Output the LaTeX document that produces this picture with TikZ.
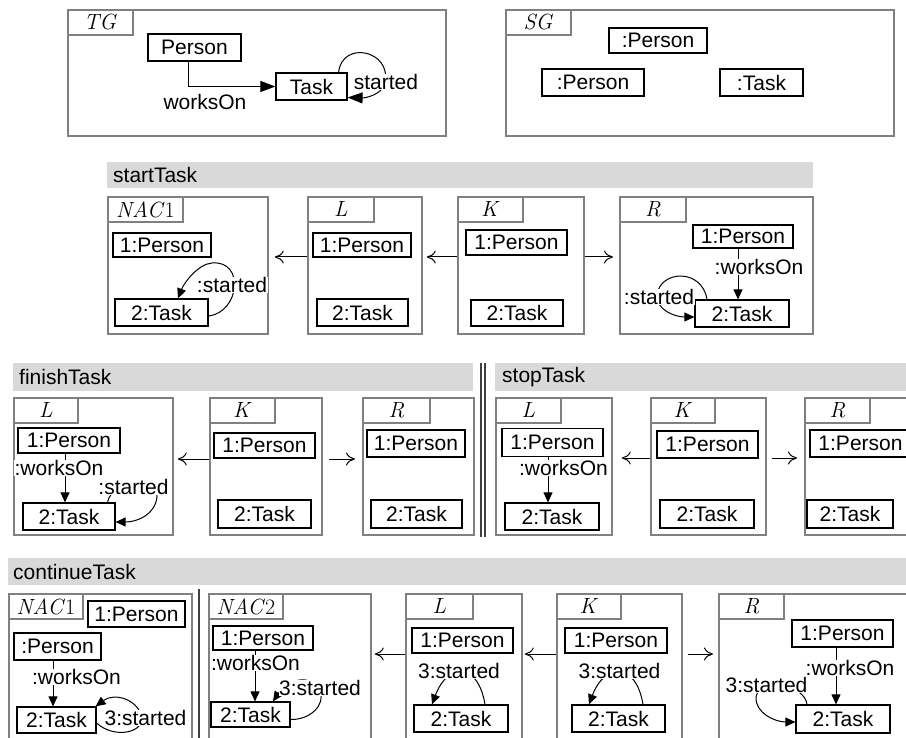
\documentclass[tikz,border=0pt]{standalone}
\usepackage{fontspec}
\setsansfont{Liberation Sans}
\usetikzlibrary{arrows.meta}
\definecolor{fgray}{HTML}{808080}
\definecolor{bgray}{HTML}{D9D9D9}
\tikzset{
  frm/.style={draw=fgray, line width=1.8, inner sep=0, anchor=north west},
  tabn/.style={draw=fgray, line width=1.8, inner sep=0, anchor=north west, minimum height=25, font=\rmfamily\fontsize{22}{22}\selectfont},
  obj/.style={draw=black, line width=1.2, inner sep=0, font=\sffamily\fontsize{21}{24}\selectfont},
  lbl/.style={fill=white, inner sep=0.5, font=\sffamily\fontsize{21}{24}\selectfont},
  barbox/.style={fill=bgray, inner sep=0, anchor=north west},
  bartxt/.style={anchor=west, inner sep=0, font=\sffamily\fontsize{21}{24}\selectfont},
  ed/.style={line width=1, -{Triangle[length=10, width=9]}},
  edB/.style={line width=1, -{Triangle[length=15, width=11]}},
  rarr/.style={line width=1, -{Computer Modern Rightarrow[length=9, width=13]}},
  sep/.style={line width=1.2, black!75},
}
\newcommand\Frm[7]{%
  \node[frm, minimum width={#4-#2}, minimum height={#5-#3}] (#1) at (#2,#3) {};
  \node[tabn, minimum width=#6] (#1t) at (#2,#3) {#7};
}
\newcommand\tl[1]{\textit{#1}}
\begin{document}
\begin{tikzpicture}[x=1pt,y=-1pt]
\useasboundingbox (0,0) rectangle (906,738);
\clip (0,0) rectangle (906,738);

% ---------- TG ----------
\Frm{tg}{67}{9}{445}{135}{65}{\tl{TG}}
\node[obj, minimum width=93, minimum height=27] (tgP) at (194.5,47.5) {Person};
\node[obj, minimum width=71, minimum height=27] (tgT) at (311.5,86.5) {Task};
\draw[edB] ([xshift=-6.5]tgP.south) |- (tgT.west);
\node[lbl] (tgwl) at (205,102) {worksOn};
\draw[edB] ([xshift=-9]tgT.north east) .. controls (342,40) and (392,50) .. (385,83) .. controls (382,95) and (365,98) .. ([yshift=-11]tgT.east);
\node[lbl] (tgsl) at (386,82) {started};

% ---------- SG ----------
\Frm{sg}{505}{9}{893}{135}{65}{\tl{SG}}
\node[obj, minimum width=98, minimum height=25] (sgP1) at (658,40.5) {:Person};
\node[obj, minimum width=102, minimum height=27] (sgP2) at (593,82.5) {:Person};
\node[obj, minimum width=83, minimum height=27] (sgT) at (761.5,82.5) {:Task};

% ---------- startTask ----------
\node[barbox, minimum width=706, minimum height=26] (stbar) at (107,162) {};
\node[bartxt] (stbt) at (113,175) {startTask};
\coordinate (ya) at (0,257);

\Frm{stN}{107}{196}{267}{333}{75}{\tl{NAC}1}
\node[obj, minimum width=98, minimum height=24] (stNP) at (162,245) {1:Person};
\node[obj, minimum width=93, minimum height=27] (stNT) at (161.5,312.5) {2:Task};
\draw[ed] ([yshift=-3.5]stNT.east) .. controls (240,312) and (245,260) .. (212,263) .. controls (198,264) and (184,283) .. ([xshift=16.5]stNT.north);
\node[lbl] (stNsl) at (232,285) {:started};

\Frm{stL}{307}{196}{421}{333}{66}{\tl{L}}
\node[obj, minimum width=98, minimum height=24] (stLP) at (362,245) {1:Person};
\node[obj, minimum width=91, minimum height=27] (stLT) at (362.5,312.5) {2:Task};

\Frm{stK}{457}{196}{583}{333}{65}{\tl{K}}
\node[obj, minimum width=101, minimum height=25] (stKP) at (516.5,242.5) {1:Person};
\node[obj, minimum width=92, minimum height=26] (stKT) at (517,313) {2:Task};

\Frm{stR}{619}{196}{812}{333}{66}{\tl{R}}
\node[obj, minimum width=100, minimum height=23] (stRP) at (743,236.5) {1:Person};
\node[obj, minimum width=94, minimum height=27] (stRT) at (742,313.5) {2:Task};
\draw[ed] ([xshift=-5]stRP.south) -- ([xshift=-4]stRT.north);
\node[lbl] (stRwl) at (759,267) {:worksOn};
\draw[ed] ([xshift=-35]stRT.north) .. controls (702,268) and (660,270) .. (657,295) .. controls (656,310) and (675,317) .. ([yshift=-3.5]stRT.west);
\node[lbl] (stRsl) at (659,297) {:started};

\draw[rarr, shorten >=6] (stL.west |- ya) -- (stN.east |- ya);
\draw[rarr, shorten >=4] (stK.west |- ya) -- (stL.east |- ya);
\draw[rarr, shorten >=6] (stK.east |- ya) -- (stR.west |- ya);

% ---------- finishTask ----------
\node[barbox, minimum width=460, minimum height=28] (fbar) at (13,363) {};
\node[bartxt] (fbt) at (19,377) {finishTask};
\coordinate (yb) at (0,459);

\Frm{fL}{13}{397}{172}{534}{64}{\tl{L}}
\node[obj, minimum width=102, minimum height=25] (fLP) at (69,440.5) {1:Person};
\node[obj, minimum width=92, minimum height=27] (fLT) at (69,516.5) {2:Task};
\draw[ed] ([xshift=-4]fLP.south) -- ([xshift=-4]fLT.north);
\node[lbl] (fLwl) at (59,468) {:worksOn};
\draw[ed] ([xshift=-8]fLT.north east) .. controls (110,482) and (160,475) .. (157,497) .. controls (155,515) and (137,522) .. ([yshift=-5.5]fLT.east);
\node[lbl] (fLsl) at (133.5,487) {:started};

\Frm{fK}{209}{397}{321}{534}{65}{\tl{K}}
\node[obj, minimum width=101, minimum height=25] (fKP) at (264.5,445.5) {1:Person};
\node[obj, minimum width=93, minimum height=28] (fKT) at (264.5,514) {2:Task};

\Frm{fR}{362}{397}{473}{534}{67}{\tl{R}}
\node[obj, minimum width=98, minimum height=27] (fRP) at (416,443.5) {1:Person};
\node[obj, minimum width=91, minimum height=28] (fRT) at (416.5,514) {2:Task};

\draw[rarr, shorten >=4] (fK.west |- yb) -- (fL.east |- yb);
\draw[rarr, shorten <=6, shorten >=7] (fK.east |- yb) -- (fR.west |- yb);

% double separator
\draw[sep] (481,363) -- (481,537);
\draw[sep] (485,363) -- (485,537);

% ---------- stopTask ----------
\node[barbox, minimum width=420, minimum height=28] (sbar) at (495,363) {};
\node[bartxt] (sbt) at (502,377) {stopTask};
\coordinate (yc) at (0,458);

\Frm{sL}{495}{397}{611}{534}{65}{\tl{L}}
\node[obj, minimum width=101, minimum height=28] (sLP) at (552.5,442.5) {1:Person};
\node[obj, minimum width=94, minimum height=27] (sLT) at (552,516.5) {2:Task};
\draw[ed] ([xshift=-4.5]sLP.south) -- ([xshift=-4]sLT.north);
\node[lbl] (sLwl) at (563.5,468) {:worksOn};

\Frm{sK}{650}{397}{765}{534}{64}{\tl{K}}
\node[obj, minimum width=101, minimum height=27] (sKP) at (707.5,444.5) {1:Person};
\node[obj, minimum width=94, minimum height=28] (sKT) at (707,514) {2:Task};

\Frm{sR}{804}{397}{920}{534}{65}{\tl{R}}
\node[obj, minimum width=101, minimum height=27] (sRP) at (860.5,443.5) {1:Person};
\node[obj, minimum width=86, minimum height=28] (sRT) at (850,514) {2:Task};

\draw[rarr, shorten >=9] (sK.west |- yc) -- (sL.east |- yc);
\draw[rarr, shorten <=5, shorten >=7] (sK.east |- yc) -- (sR.west |- yc);

% ---------- continueTask ----------
\node[barbox, minimum width=900, minimum height=27] (cbar) at (8,558) {};
\node[bartxt] (cbt) at (13,572) {continueTask};
\coordinate (yd) at (0,654);

\Frm{cN1}{8}{593}{191}{750}{74}{\tl{NAC}1}
\node[obj, minimum width=97, minimum height=26] (cN1P) at (136.5,614) {1:Person};
\node[obj, minimum width=87, minimum height=27] (cN1Q) at (57.5,646.5) {:Person};
\node[obj, minimum width=79, minimum height=26] (cN1T) at (56.5,720) {2:Task};
\draw[ed] ([xshift=-4.5]cN1Q.south) -- ([xshift=-3.5]cN1T.north);
\node[lbl] (cN1wl) at (76.5,677) {:worksOn};
\draw[ed] ([yshift=-3]cN1T.east) .. controls (115,740) and (147,732) .. (141,715) .. controls (137,700) and (115,692) .. ([xshift=-1]cN1T.north east);
\node[lbl] (cN1sl) at (145.5,718) {3:started};

\draw[sep] (199,589) -- (199,740);

\Frm{cN2}{208}{593}{370}{750}{74}{\tl{NAC}2}
\node[obj, minimum width=100, minimum height=24] (cN2P) at (263,638) {1:Person};
\node[obj, minimum width=79, minimum height=25] (cN2T) at (250.5,714.5) {2:Task};
\draw[ed] ([xshift=-8]cN2P.south) -- ([xshift=4.5]cN2T.north);
\node[lbl] (cN2wl) at (255.5,663) {:worksOn};
\draw[ed] ([yshift=-5]cN2T.east) .. controls (310,720) and (326,705) .. (320,690) .. controls (314,676) and (290,676) .. ([xshift=22.5]cN2T.north);
\node[lbl] (cN2sl) at (320,688) {3:started};

\Frm{cL}{405}{593}{521}{750}{67}{\tl{L}}
\node[obj, minimum width=101, minimum height=25] (cLP) at (462.5,640.5) {1:Person};
\node[obj, minimum width=94, minimum height=27] (cLT) at (461,718.5) {2:Task};
\draw[ed] ([xshift=24]cLT.north) .. controls (478,662) and (448,662) .. ([xshift=-29]cLT.north);
\node[lbl] (cLsl) at (459,671) {3:started};

\Frm{cK}{556}{593}{681}{750}{64}{\tl{K}}
\node[obj, minimum width=102, minimum height=25] (cKP) at (616,640.5) {1:Person};
\node[obj, minimum width=93, minimum height=27] (cKT) at (618.5,718.5) {2:Task};
\draw[ed] ([xshift=24.5]cKT.north) .. controls (636,662) and (605,662) .. ([xshift=-29.5]cKT.north);
\node[lbl] (cKsl) at (619.5,671) {3:started};

\Frm{cR}{718}{593}{920}{750}{65}{\tl{R}}
\node[obj, minimum width=101, minimum height=27] (cRP) at (842.5,633.5) {1:Person};
\node[obj, minimum width=94, minimum height=28] (cRT) at (843,719) {2:Task};
\draw[ed] ([xshift=-6.5]cRP.south) -- ([xshift=-7]cRT.north);
\node[lbl] (cRwl) at (850,668) {:worksOn};
\draw[ed] ([xshift=-36]cRT.north) .. controls (805,685) and (760,675) .. (756,697) .. controls (755,713) and (775,722) .. ([yshift=-3]cRT.west);
\node[lbl] (cRsl) at (766.5,685) {3:started};

\draw[rarr, shorten >=3] (cL.west |- yd) -- (cN2.east |- yd);
\draw[rarr, shorten >=2] (cK.west |- yd) -- (cL.east |- yd);
\draw[rarr, shorten <=5, shorten >=5] (cK.east |- yd) -- (cR.west |- yd);
\end{tikzpicture}
\end{document}
